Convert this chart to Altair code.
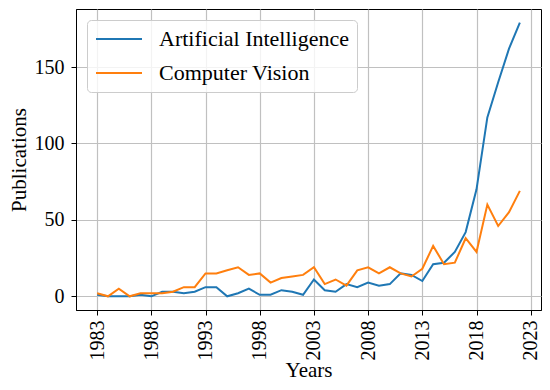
import altair as alt
import pandas as pd

years = list(range(1983, 2023))
ai = [1, 0, 0, 0, 1, 0, 3, 3, 2, 3,
      6, 6, 0, 2, 5, 1, 1, 4, 3, 1,
      11, 4, 3, 8, 6, 9, 7, 8, 15, 14,
      10, 21, 22, 29, 42, 70, 117, 140, 162, 179]
cv = [2, 0, 5, 0, 2, 2, 2, 3, 6, 6,
      15, 15, 17, 19, 14, 15, 9, 12, 13, 14,
      19, 8, 11, 7, 17, 19, 15, 19, 15, 13,
      18, 33, 21, 22, 38, 29, 60, 46, 55, 69]
series = ["Artificial Intelligence", "Computer Vision"]
colors = ["#1f77b4", "#ff7f0e"]
x_ticks = [1983, 1988, 1993, 1998, 2003, 2008, 2013, 2018, 2023]
y_ticks = [0, 50, 100, 150]

df = pd.DataFrame({
    "Year": years * 2,
    "Publications": ai + cv,
    "Series": [series[0]] * len(years) + [series[1]] * len(years),
})

font = "Liberation Serif"

chart = alt.Chart(df).mark_line(strokeWidth=2, clip=True).encode(
    x=alt.X("Year:Q",
            scale=alt.Scale(domain=[1981.05, 2023.95], nice=False, zero=False),
            axis=alt.Axis(values=x_ticks, format="d", labelAngle=270, title="Years",
                          labelPadding=5, titleY=66, titleBaseline="alphabetic")),
    y=alt.Y("Publications:Q",
            scale=alt.Scale(domain=[-8.95, 187.95], nice=False, zero=False),
            axis=alt.Axis(values=y_ticks, title="Publications", labelPadding=7, titlePadding=5)),
    color=alt.Color("Series:N",
                    scale=alt.Scale(domain=series, range=colors),
                    legend=alt.Legend(title=None, orient="none", legendX=11, legendY=11,
                                      symbolType="stroke", symbolSize=2116, symbolStrokeWidth=2,
                                      labelFont=font, labelFontSize=22, labelOffset=16,
                                      labelLimit=400, padding=8, clipHeight=22, rowPadding=12,
                                      fillColor="rgba(255,255,255,0.8)", strokeColor="#cccccc",
                                      cornerRadius=4)),
).properties(
    width=465, height=301,
    autosize=alt.AutoSizeParams(type="none"),
    padding={"left": 68, "top": 1, "right": 1, "bottom": 72},
).configure_axis(
    labelFont=font, titleFont=font, labelFontSize=20, titleFontSize=21,
    titleFontWeight="normal", labelColor="black", titleColor="black",
    domainColor="black", domainWidth=1, tickColor="black", tickSize=5, tickWidth=1,
    gridColor="#c0c0c0", gridWidth=1.2,
).configure_view(stroke="black", strokeWidth=1)

chart.save("out.html", embed_options={"renderer": "svg", "actions": False})
